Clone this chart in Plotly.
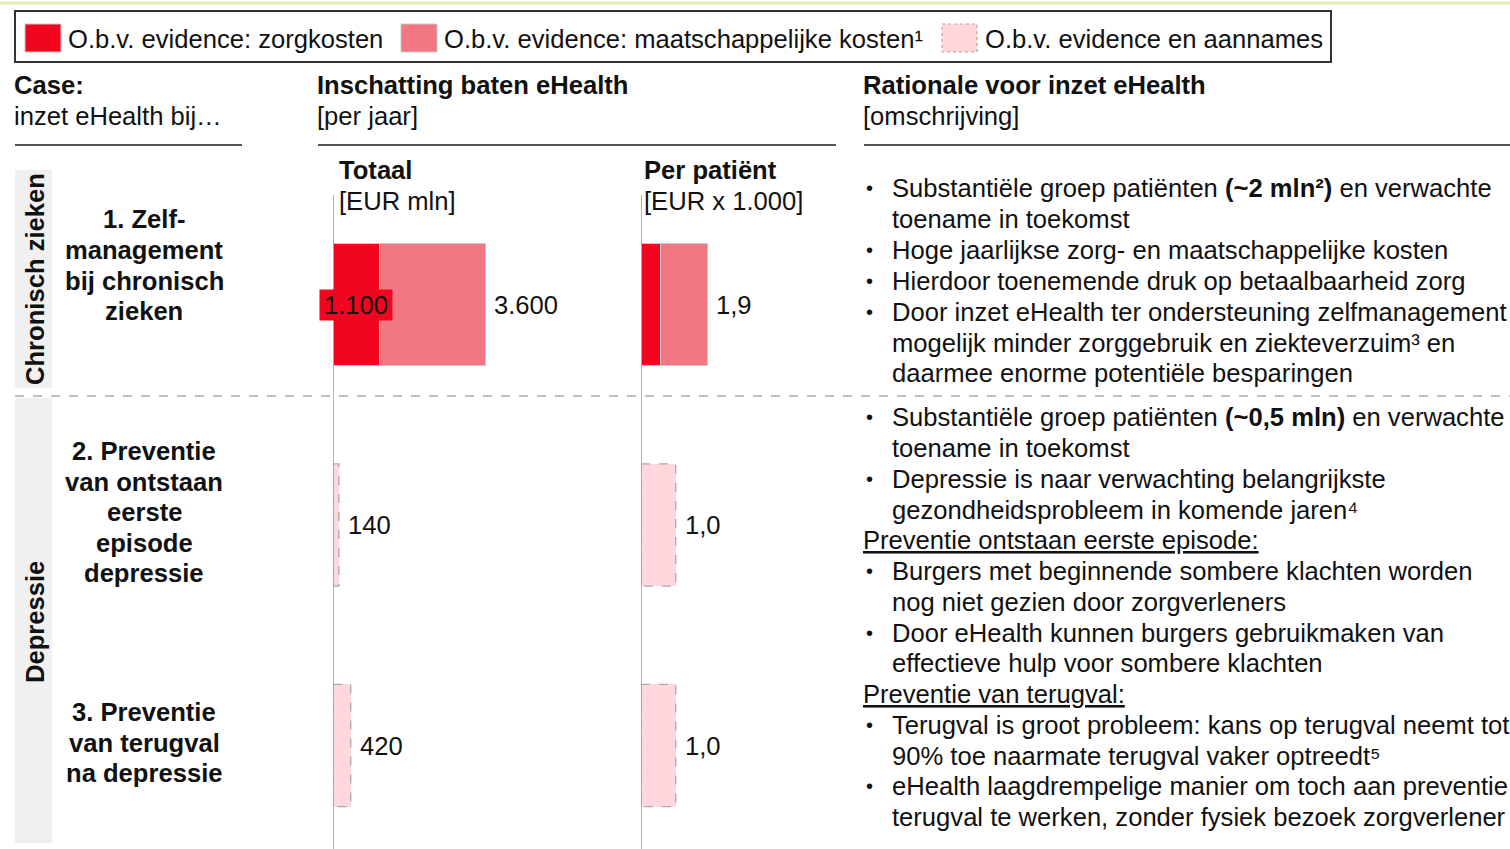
import plotly.graph_objects as go

# ---------------- data ----------------
cases = ["1. Zelfmanagement bij chronisch zieken",
         "2. Preventie van ontstaan eerste episode depressie",
         "3. Preventie van terugval na depressie"]
totaal_zorg = [1100, 0, 0]          # EUR mln, evidence: zorgkosten
totaal_total = [3600, 140, 420]     # EUR mln, totals
totaal_aannames = [0, 140, 420]     # EUR mln, evidence en aannames
per_zorg = [0.55, 0, 0]             # EUR x 1.000
per_total = [1.9, 1.0, 1.0]
per_aannames = [0, 1.0, 1.0]
totaal_labels = ["3.600", "140", "420"]
per_labels = ["1,9", "1,0", "1,0"]
zorg_label = "1.100"

totaal_maatsch = [t - z - a for t, z, a in zip(totaal_total, totaal_zorg, totaal_aannames)]
per_maatsch = [t - z - a for t, z, a in zip(per_total, per_zorg, per_aannames)]

RED = "#F2051F"
PINK = "#F27782"
LIGHT = "#FFD7DC"
FONT = "Arial, Liberation Sans, sans-serif"
TXT = "#111111"
FS = 25.6
W, H = 1510, 849
BW = 0.555


def px(x):
    return x / W


def py(y):
    return 1 - y / H


fig = go.Figure()


def nz(v):
    return [x if x else None for x in v]


for xa, zorg, maat, aan in [("x", totaal_zorg, totaal_maatsch, totaal_aannames),
                            ("x2", per_zorg, per_maatsch, per_aannames)]:
    fig.add_trace(go.Bar(y=cases, x=nz(zorg), orientation="h", xaxis=xa, yaxis="y",
                         width=BW, marker=dict(color=RED, line=dict(color="#C8C8C8", width=1)),
                         name="O.b.v. evidence: zorgkosten", showlegend=False, hoverinfo="x"))
    fig.add_trace(go.Bar(y=cases, x=nz(maat), orientation="h", xaxis=xa, yaxis="y",
                         width=BW, marker=dict(color=PINK, line=dict(color="#C8C8C8", width=1)),
                         name="O.b.v. evidence: maatschappelijke kosten", showlegend=False, hoverinfo="x"))
    fig.add_trace(go.Bar(y=cases, x=nz(aan), orientation="h", xaxis=xa, yaxis="y",
                         width=BW, marker=dict(color=LIGHT, line=dict(width=0)),
                         name="O.b.v. evidence en aannames", showlegend=False, hoverinfo="x"))

shapes = []
annotations = []

# dashed outlines for assumption-based bars (derived from data)
for xa, vals in [("x", totaal_aannames), ("x2", per_aannames)]:
    for i, v in enumerate(vals):
        if v:
            shapes.append(dict(type="rect", xref=xa, yref="y", x0=0, x1=v,
                               y0=i - BW / 2, y1=i + BW / 2,
                               line=dict(color="#AAAAAA", width=1.3, dash="dash"),
                               fillcolor="rgba(0,0,0,0)", layer="above"))

# value labels
for i, (t, lab) in enumerate(zip(totaal_total, totaal_labels)):
    annotations.append(dict(xref="x", yref="y", x=t, y=i, text=lab, showarrow=False,
                            xanchor="left", xshift=7, font=dict(size=FS, color=TXT, family=FONT)))
for i, (t, lab) in enumerate(zip(per_total, per_labels)):
    annotations.append(dict(xref="x2", yref="y", x=t, y=i, text=lab, showarrow=False,
                            xanchor="left", xshift=7, font=dict(size=FS, color=TXT, family=FONT)))
annotations.append(dict(xref="x", yref="y", x=totaal_zorg[0] / 2, y=0, text=zorg_label,
                        showarrow=False, bgcolor=RED, width=70, height=28, borderpad=1,
                        font=dict(size=FS, color=TXT, family=FONT)))


def txt(x, y, text, size=FS, bold=False, anchor="left", color=TXT, angle=0):
    if bold:
        text = "<b>" + text + "</b>"
    annotations.append(dict(xref="paper", yref="paper", x=px(x), y=py(y), text=text,
                            showarrow=False, xanchor=anchor, yanchor="middle",
                            textangle=angle, font=dict(size=size, color=color, family=FONT)))


def line(x0, y0, x1, y1, color="#555555", width=2, dash="solid"):
    shapes.append(dict(type="line", xref="paper", yref="paper", x0=px(x0), y0=py(y0),
                       x1=px(x1), y1=py(y1), line=dict(color=color, width=width, dash=dash)))


def rect(x0, y0, x1, y1, fill, lc="rgba(0,0,0,0)", lw=0, dash="solid"):
    shapes.append(dict(type="rect", xref="paper", yref="paper", x0=px(x0), y0=py(y0),
                       x1=px(x1), y1=py(y1), fillcolor=fill,
                       line=dict(color=lc, width=lw, dash=dash), layer="below"))


# top thin line
line(0, 3, W, 3, color="#E4EAB8", width=3)

# legend
rect(15, 11, 1331, 62, "white", lc="#333333", lw=2)
rect(25, 24, 61, 52, RED, lc="#C8C8C8", lw=1)
txt(66, 39, "O.b.v. evidence: zorgkosten")
rect(401, 24, 437, 52, PINK, lc="#C8C8C8", lw=1)
txt(442, 39, "O.b.v. evidence: maatschappelijke kosten¹")
rect(942, 24, 977, 52, LIGHT, lc="#AAAAAA", lw=1.2, dash="dot")
txt(983, 39, "O.b.v. evidence en aannames")

# headers
txt(12, 85, "Case:", bold=True)
txt(12, 116, "inzet eHealth bij…")
txt(315, 85, "Inschatting baten eHealth", bold=True)
txt(315, 116, "[per jaar]")
txt(861, 85, "Rationale voor inzet eHealth", bold=True)
txt(861, 116, "[omschrijving]")
line(15, 145, 242, 145)
line(318, 145, 836, 145)
line(864, 145, W, 145)

txt(337, 170, "Totaal", bold=True)
txt(337, 201, "[EUR mln]")
txt(642, 170, "Per patiënt", bold=True)
txt(642, 201, "[EUR x 1.000]")

# axis base lines
for xa in ("x", "x2"):
    shapes.append(dict(type="line", xref=xa, yref="paper", x0=0, x1=0, y0=0, y1=py(195),
                       line=dict(color="#9A9A9A", width=1.5)))

# group bands
rect(15, 170, 52, 388, "#F0F0F0")
rect(15, 398, 52, 843, "#F0F0F0")
txt(35, 279, "Chronisch zieken", bold=True, anchor="center", angle=-90)
txt(35, 622, "Depressie", bold=True, anchor="center", angle=-90)

# separator
line(15, 396, W, 396, color="#AAAAAA", width=1.3, dash="dash")

# case labels
case_lines = [
    (219, "1. Zelf-"), (250, "management"), (281, "bij chronisch"), (311, "zieken"),
    (451, "2. Preventie"), (482, "van ontstaan"), (512, "eerste"), (543, "episode"), (573, "depressie"),
    (712, "3. Preventie"), (743, "van terugval"), (773, "na depressie"),
]
for y, t in case_lines:
    txt(144, y, t, bold=True, anchor="center")

# rationale text: (y, text, kind) kind: b=bullet start, c=continuation, h=heading
rationale = [
    (188, "Substantiële groep patiënten <b>(~2 mln²)</b> en verwachte", "b"),
    (219, "toename in toekomst", "c"),
    (250, "Hoge jaarlijkse zorg- en maatschappelijke kosten", "b"),
    (281, "Hierdoor toenemende druk op betaalbaarheid zorg", "b"),
    (312, "Door inzet eHealth ter ondersteuning zelfmanagement", "b"),
    (343, "mogelijk minder zorggebruik en ziekteverzuim³ en", "c"),
    (373, "daarmee enorme potentiële besparingen", "c"),
    (417, "Substantiële groep patiënten <b>(~0,5 mln)</b> en verwachte", "b"),
    (448, "toename in toekomst", "c"),
    (479, "Depressie is naar verwachting belangrijkste", "b"),
    (510, "gezondheidsprobleem in komende jaren⁴", "c"),
    (540, "<u>Preventie ontstaan eerste episode:</u>", "h"),
    (571, "Burgers met beginnende sombere klachten worden", "b"),
    (602, "nog niet gezien door zorgverleners", "c"),
    (633, "Door eHealth kunnen burgers gebruikmaken van", "b"),
    (663, "effectieve hulp voor sombere klachten", "c"),
    (694, "<u>Preventie van terugval:</u>", "h"),
    (725, "Terugval is groot probleem: kans op terugval neemt tot", "b"),
    (756, "90% toe naarmate terugval vaker optreedt⁵", "c"),
    (786, "eHealth laagdrempelige manier om toch aan preventie", "b"),
    (817, "terugval te werken, zonder fysiek bezoek zorgverlener", "c"),
]
for y, t, k in rationale:
    if k == "h":
        txt(861, y, t)
    else:
        if k == "b":
            txt(870, y, "•", anchor="center", size=20)
        txt(890, y, t)

# axes geometry
row_px = 220.5
first_center = 304.5
ymin = -first_center / row_px
ymax = ymin + H / row_px

tot_scale = 152 / 3600.0   # px per EUR mln
per_scale = 66 / 1.9       # px per EUR 1.000
fig.update_layout(
    width=W, height=H,
    margin=dict(l=0, r=0, t=0, b=0),
    paper_bgcolor="white", plot_bgcolor="rgba(0,0,0,0)",
    barmode="stack", showlegend=False,
    xaxis=dict(domain=[px(333), px(633)], range=[0, 300 / tot_scale], visible=False,
               anchor="y", fixedrange=True),
    xaxis2=dict(domain=[px(641), px(841)], range=[0, 200 / per_scale], visible=False,
                anchor="y", fixedrange=True),
    yaxis=dict(domain=[0, 1], type="category", categoryarray=cases, categoryorder="array",
               range=[ymax, ymin], visible=False, anchor="x", fixedrange=True),
    shapes=shapes, annotations=annotations,
    font=dict(family=FONT, color=TXT),
)

fig.write_html("out.html", config={"displayModeBar": False},
               post_script="document.body.style.margin='0';document.body.style.overflow='hidden';")
